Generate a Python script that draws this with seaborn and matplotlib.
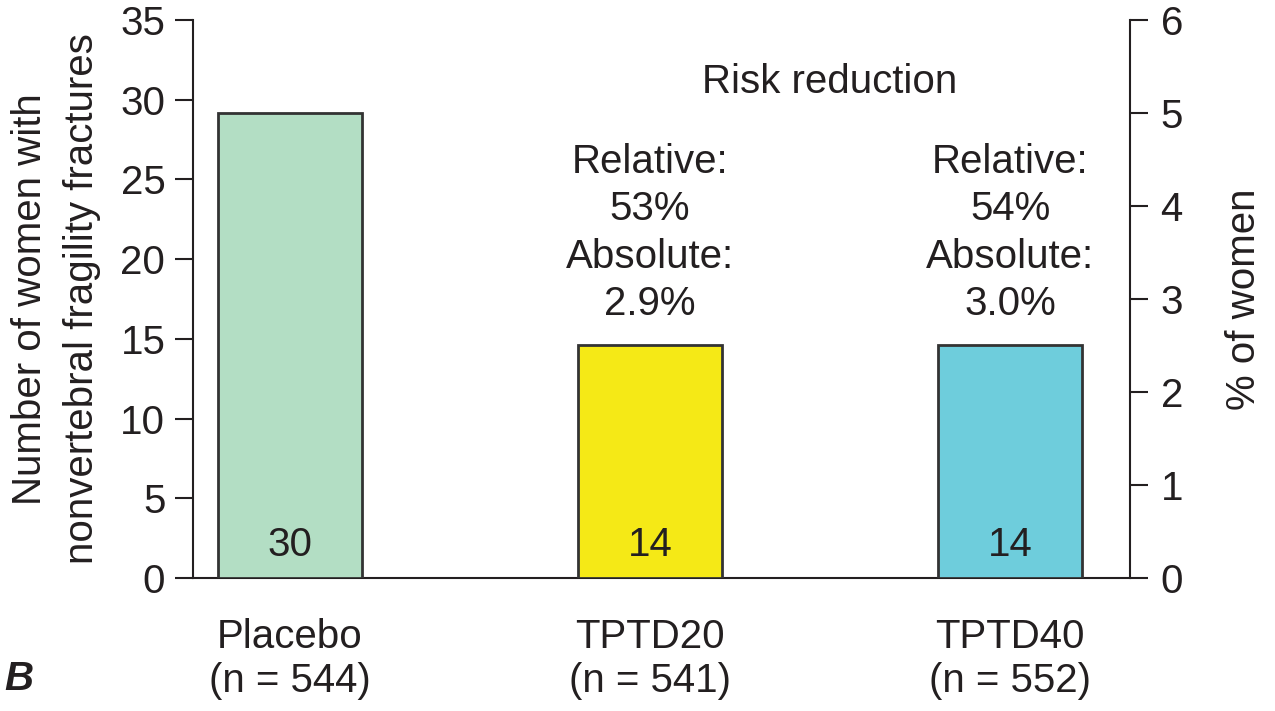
import numpy as np
import matplotlib
matplotlib.use("Agg")
import matplotlib.pyplot as plt
import seaborn as sns
import pandas as pd

# data
groups = ["Placebo", "TPTD20", "TPTD40"]
n_women = [544, 541, 552]
n_fractures = [30, 14, 14]
pct_women = [5.0, 2.5, 2.5]
relative_rr = [None, "53%", "54%"]
absolute_rr = [None, "2.9%", "3.0%"]
colors = ["#b3dec4", "#f5e916", "#6ecddc"]

ink = "#231f20"

sns.set_style("ticks")
plt.rcParams['font.family'] = ['Liberation Sans', 'DejaVu Sans']
plt.rcParams['text.color'] = ink
plt.rcParams['axes.labelcolor'] = ink
plt.rcParams['xtick.color'] = ink
plt.rcParams['ytick.color'] = ink
plt.rcParams['axes.edgecolor'] = ink

fs = 29

fig = plt.figure(figsize=(12.75, 7.11), dpi=100)
ax = fig.add_axes([0.1514, 0.187, 0.8863 - 0.1514, 0.972 - 0.187])
ax2 = ax.twinx()

df = pd.DataFrame({'group': groups, 'pct': pct_women})
sns.barplot(data=df, x='group', y='pct', hue='group', palette=colors,
            width=0.4, edgecolor='#333333', linewidth=2, saturation=1,
            legend=False, ax=ax2)

ax.set_ylim(0, 35)
ax2.set_ylim(0, 6)
ax.set_yticks(range(0, 36, 5))
ax2.set_yticks(range(0, 7))

ax.set_xticks(range(len(groups)))
ax.set_xticklabels([f"{g}\n(n = {n})" for g, n in zip(groups, n_women)], fontsize=fs)
ax.set_xlim(-0.268, 2.333)

# spines
for a in (ax, ax2):
    a.spines['top'].set_visible(False)
    for s in a.spines.values():
        s.set_linewidth(1.5)
ax.spines['right'].set_visible(False)
ax2.spines['left'].set_visible(False)
ax2.spines['bottom'].set_visible(False)

ax.tick_params(axis='x', length=0, pad=29, labelsize=fs)
ax.tick_params(axis='y', length=13, width=1.5, pad=7, labelsize=fs)
ax2.tick_params(axis='y', length=13, width=1.5, pad=9, labelsize=fs)

ax.set_xlabel("")
ax2.set_xlabel("")
ax.set_ylabel("Number of women with\nnonvertebral fragility fractures", fontsize=fs,
              labelpad=14, linespacing=1.45)
ax2.set_ylabel("% of women", fontsize=fs, labelpad=30)

# counts inside bars
for i, c in enumerate(n_fractures):
    ax2.text(i, 0.35, str(c), ha='center', va='center', fontsize=fs)

# risk reduction annotations
ax2.text(1.5, 5.33, "Risk reduction", ha='center', va='center', fontsize=fs)
for i, (r, a) in enumerate(zip(relative_rr, absolute_rr)):
    if r is None:
        continue
    ax2.text(i, 3.71, f"Relative:\n{r}\nAbsolute:\n{a}", ha='center', va='center',
             fontsize=fs, linespacing=1.31)

fig.text(0.003, 1 - 679 / 711, "B", fontsize=fs, fontweight='bold', fontstyle='italic',
         ha='left', va='center')

fig.savefig("out.png", dpi=100)
